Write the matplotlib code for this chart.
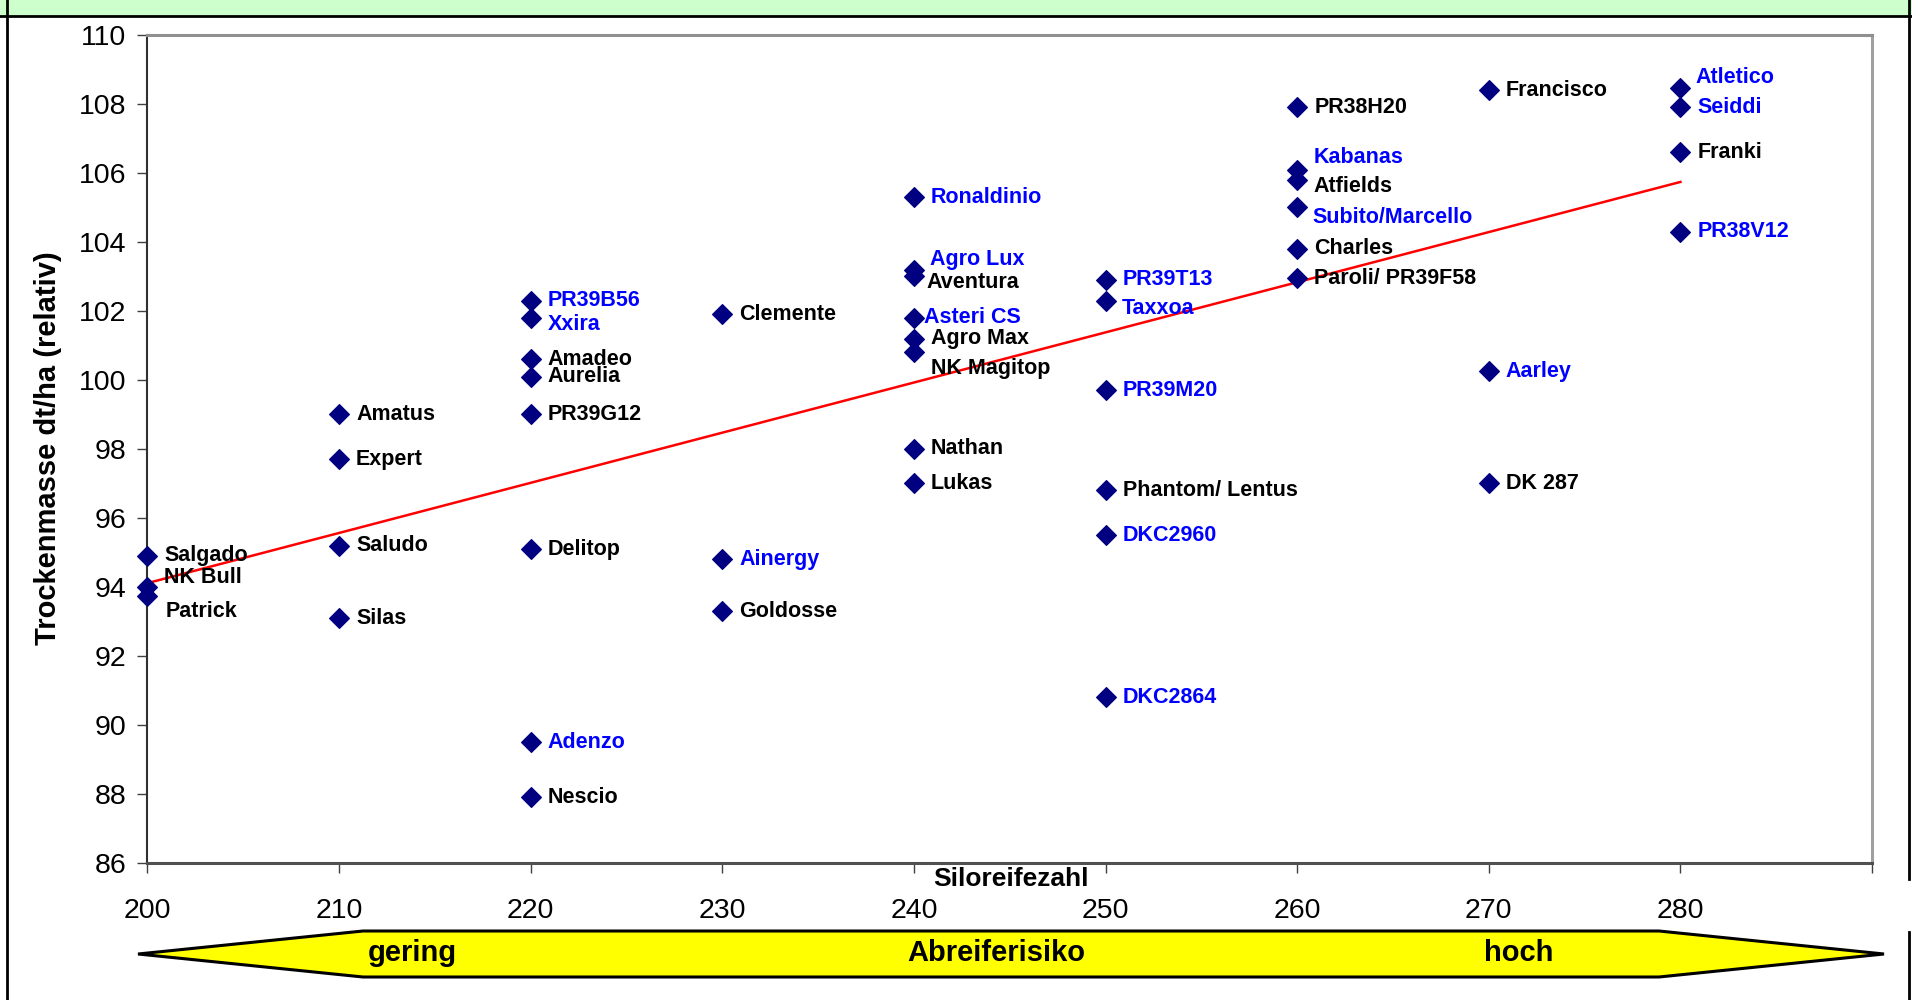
import numpy as np
import matplotlib
matplotlib.use("Agg")
from matplotlib import pyplot as plt
from matplotlib.patches import Polygon, Rectangle
from matplotlib.lines import Line2D

plt.rcParams['font.family'] = ['Liberation Sans', 'DejaVu Sans']

# Sorten: Siloreifezahl, Trockenmasse relativ, neue Sorte (blau)
sorten = ["Salgado", "NK Bull", "Patrick",
          "Amatus", "Expert", "Saludo", "Silas",
          "PR39B56", "Xxira", "Amadeo", "Aurelia", "PR39G12", "Delitop", "Adenzo", "Nescio",
          "Clemente", "Ainergy", "Goldosse",
          "Ronaldinio", "Agro Lux", "Aventura", "Asteri CS", "Agro Max", "NK Magitop", "Nathan", "Lukas",
          "PR39T13", "Taxxoa", "PR39M20", "Phantom/ Lentus", "DKC2960", "DKC2864",
          "PR38H20", "Kabanas", "Atfields", "Subito/Marcello", "Charles", "Paroli/ PR39F58",
          "Francisco", "Aarley", "DK 287",
          "Atletico", "Seiddi", "Franki", "PR38V12"]
reifezahl = [200, 200, 200,
             210, 210, 210, 210,
             220, 220, 220, 220, 220, 220, 220, 220,
             230, 230, 230,
             240, 240, 240, 240, 240, 240, 240, 240,
             250, 250, 250, 250, 250, 250,
             260, 260, 260, 260, 260, 260,
             270, 270, 270,
             280, 280, 280, 280]
trockenmasse = [94.9, 94.0, 93.75,
                99.0, 97.7, 95.2, 93.1,
                102.3, 101.8, 100.6, 100.1, 99.0, 95.1, 89.5, 87.9,
                101.9, 94.8, 93.3,
                105.3, 103.2, 103.0, 101.8, 101.2, 100.8, 98.0, 97.0,
                102.9, 102.3, 99.7, 96.8, 95.5, 90.8,
                107.9, 106.1, 105.8, 105.0, 103.8, 102.95,
                108.4, 100.25, 97.0,
                108.45, 107.9, 106.6, 104.3]
neu = [0, 0, 0,
       0, 0, 0, 0,
       1, 1, 0, 0, 0, 0, 1, 0,
       0, 1, 0,
       1, 1, 0, 1, 0, 0, 0, 0,
       1, 1, 1, 0, 1, 1,
       0, 1, 0, 1, 0, 0,
       0, 1, 0,
       1, 1, 0, 1]

xticks = [200, 210, 220, 230, 240, 250, 260, 270, 280, 290]
xticklabels = ["200", "210", "220", "230", "240", "250", "260", "270", "280", ""]
yticks = list(range(86, 111, 2))

# label shifts in points (dx, dy) where the label was moved by hand
shift = {"NK Bull": (12, 7), "Patrick": (13, -11.5), "Xxira": (12, -4.5),
         "Agro Lux": (11.5, 7), "Aventura": (9, -4.5), "Asteri CS": (7, 0),
         "NK Magitop": (12.5, -11.5), "Taxxoa": (12, -5.3), "Kabanas": (12, 8.8),
         "Atfields": (12, -4.5), "Subito/Marcello": (11, -7), "Atletico": (11, 8)}

fig = plt.figure(figsize=(19.12, 10), dpi=100)
fig.patch.set_facecolor("white")

# frame and green header strip
fig.add_artist(Rectangle((0, 0.984), 1, 0.016, transform=fig.transFigure,
                         facecolor="#ccffcc", edgecolor="none"))
fig.add_artist(Line2D([0, 1], [0.984, 0.984], transform=fig.transFigure, color="black", lw=2))
fig.add_artist(Line2D([0.0037, 0.0037], [0, 1], transform=fig.transFigure, color="black", lw=2))
fig.add_artist(Line2D([0.9985, 0.9985], [0.121, 1], transform=fig.transFigure, color="black", lw=2))
fig.add_artist(Line2D([0.9985, 0.9985], [0, 0.068], transform=fig.transFigure, color="black", lw=2))

ax = fig.add_axes([0.0771, 0.137, 0.9020, 0.828])
ax.set_xlim(200, 290)
ax.set_ylim(86, 110)

x = np.array(reifezahl, dtype=float)
y = np.array(trockenmasse, dtype=float)
ax.plot(x, y, linestyle="none", marker="D", markersize=10.5, markeredgewidth=0.8,
        color="#000080", zorder=3, clip_on=False)

# linear trend
k, d = np.polyfit(x, y, 1)
xt = np.array([200, 280])
ax.plot(xt, k * xt + d, color="red", lw=1.8, zorder=2)

for name, xi, yi, blau in zip(sorten, reifezahl, trockenmasse, neu):
    dx, dy = shift.get(name, (12.3, 0))
    ax.annotate(name, (xi, yi), xytext=(dx, dy), textcoords="offset points",
                ha="left", va="center", fontsize=15.5, fontweight="bold",
                color="#0000ff" if blau else "black", zorder=4, annotation_clip=False)

ax.set_xticks(xticks)
ax.set_xticklabels(xticklabels)
ax.set_yticks(yticks)
ax.tick_params(axis="x", direction="out", length=7, width=1, color="#404040", labelsize=20.5, pad=18)
ax.tick_params(axis="y", direction="out", length=7, width=1, color="#404040", labelsize=20.5, pad=8)

ax.spines["left"].set_color("#303030")
ax.spines["left"].set_linewidth(1.5)
ax.spines["bottom"].set_color("#505050")
ax.spines["bottom"].set_linewidth(2.2)
ax.spines["top"].set_color("#909090")
ax.spines["top"].set_linewidth(2.2)
ax.spines["right"].set_color("#a0a0a0")
ax.spines["right"].set_linewidth(2.2)

fig.text(1011 / 1912, 1 - 879 / 1000, "Siloreifezahl", ha="center", va="center",
         fontsize=19, fontweight="bold")
fig.text(48 / 1912, 1 - 448 / 1000, "Trockenmasse dt/ha (relativ)", ha="center", va="center",
         rotation=90, fontsize=21, fontweight="bold")

# yellow double arrow "Abreiferisiko"
W, H = 1912, 1000
pts = [(138, 954), (363, 931), (1659, 931), (1884, 954), (1659, 977), (363, 977)]
fig.add_artist(Polygon([(px / W, 1 - py / H) for px, py in pts], closed=True,
                       transform=fig.transFigure, facecolor="#ffff00", edgecolor="black", lw=2.2))
for txt, cx in [("gering", 412), ("Abreiferisiko", 996), ("hoch", 1519)]:
    fig.text(cx / W, 1 - 953 / H, txt, ha="center", va="center", fontsize=21, fontweight="bold")

fig.savefig("out.png", dpi=100)
